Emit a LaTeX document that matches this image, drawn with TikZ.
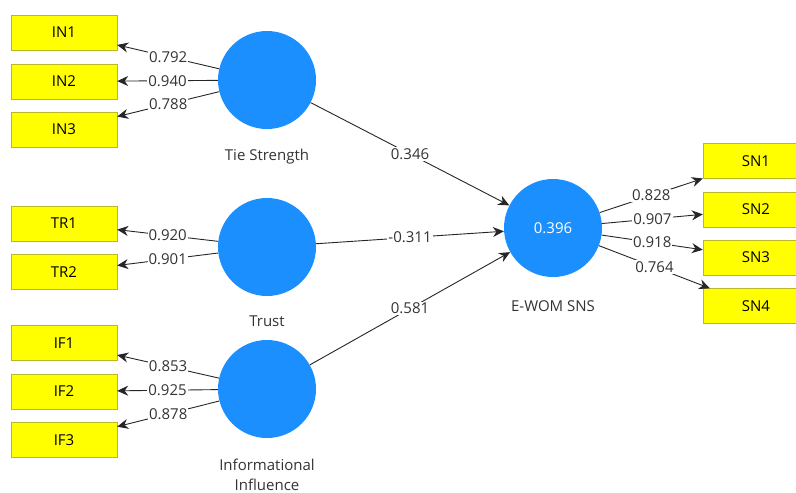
\documentclass[tikz,border=0pt]{standalone}
\usepackage{fontspec}
\setmainfont{Open Sans}
\usetikzlibrary{arrows.meta,positioning}
\definecolor{lvblue}{RGB}{28,143,255}
\definecolor{mvyellow}{RGB}{255,255,0}
\definecolor{mvborder}{RGB}{185,185,40}

\begin{document}
\begin{tikzpicture}[x=1pt,y=-1pt,
		font=\fontsize{15}{20}\selectfont,
		>={Stealth[length=11pt,width=10pt]},
		indicator/.style={draw=mvborder,fill=mvyellow,minimum width=106pt,minimum height=35pt,inner sep=0pt},
		construct/.style={circle,fill=lvblue,minimum size=98pt,inner sep=0pt},
		coef/.style={fill=white,inner sep=1pt,text=black!80},
		relarrow/.style={->,draw=black!85,line width=0.9pt},
		caption/.style={text=black!80,align=center,inner sep=2pt}
	]
		\newcommand\loadarrow[3]{ %% argument 1: from, argument 2: to, argument 3: value
			\draw[relarrow] (#1) -- node[coef]{#3} (#2);
		}
	
		\clip (0,0) rectangle (796,493);
	
		% constructs
		\node[construct] (ts) at (267,80) {};
		\node[construct] (tr) at (267,247) {};
		\node[construct] (if) at (267,389) {};
		\node[construct, text=white] (ew) at (553,228) {0.396};
		
		\node[caption, below=18pt of ts] {Tie Strength};
		\node[caption, below=17pt of tr] {Trust};
		\node[caption, below=19pt of if] {Informational\\Influence};
		\node[caption, below=21pt of ew] {E-WOM SNS};
	
		% indicators
		\node[indicator] (in1) at (64,32.5) {IN1};
		\node[indicator] (in2) at (64,81.5) {IN2};
		\node[indicator] (in3) at (64,129.5) {IN3};
		\node[indicator] (tr1) at (64,223.5) {TR1};
		\node[indicator] (tr2) at (64,272) {TR2};
		\node[indicator] (if1) at (64,343) {IF1};
		\node[indicator] (if2) at (64,391.5) {IF2};
		\node[indicator] (if3) at (64,440) {IF3};
		\node[indicator] (sn1) at (756,161) {SN1};
		\node[indicator] (sn2) at (756,209.5) {SN2};
		\node[indicator] (sn3) at (756,257.5) {SN3};
		\node[indicator] (sn4) at (756,306) {SN4};
	
		% outer loadings
		\loadarrow{ts}{in1}{0.792}
		\loadarrow{ts}{in2}{0.940}
		\loadarrow{ts}{in3}{0.788}
		\loadarrow{tr}{tr1}{0.920}
		\loadarrow{tr}{tr2}{0.901}
		\loadarrow{if}{if1}{0.853}
		\loadarrow{if}{if2}{0.925}
		\loadarrow{if}{if3}{0.878}
		\loadarrow{ew}{sn1}{0.828}
		\loadarrow{ew}{sn2}{0.907}
		\loadarrow{ew}{sn3}{0.918}
		\loadarrow{ew}{sn4}{0.764}
	
		% path coefficients
		\loadarrow{ts}{ew}{0.346}
		\loadarrow{tr}{ew}{-0.311}
		\loadarrow{if}{ew}{0.581}
	\end{tikzpicture}
\end{document}
